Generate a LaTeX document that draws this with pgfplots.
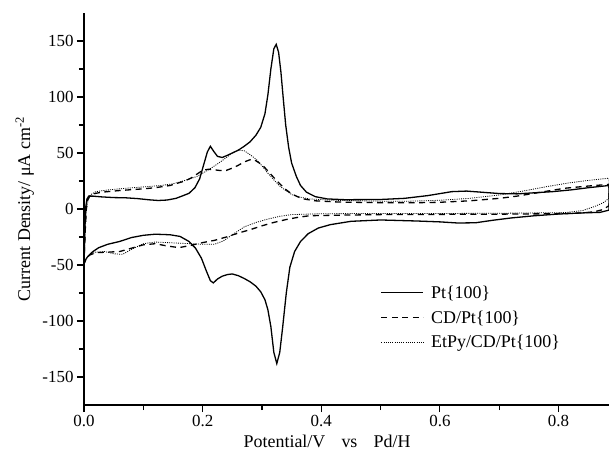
\documentclass[border=0pt]{standalone}
\usepackage{fontspec}
\setmainfont{Liberation Serif}
\usepackage{pgfplots}
\pgfplotsset{compat=1.18}
\begin{document}
\begin{tikzpicture}
\useasboundingbox (0,0) rectangle (609bp,457bp);
\begin{axis}[
  at={(84bp,52bp)}, anchor=south west,
  scale only axis, width=525bp, height=392bp,
  xmin=0, xmax=0.885, ymin=-175, ymax=175,
  axis lines=left, axis line style={-, line width=1.1bp},
  xtick={0,0.2,0.4,0.6,0.8}, minor xtick={0.1,0.3,0.5,0.7},
  ytick={-150,-100,...,150}, minor ytick={-125,-75,...,125},
  tick align=outside, major tick length=7bp, minor tick length=5bp,
  every tick/.style={line width=1.1bp, black},
  xticklabel style={/pgf/number format/.cd, fixed, fixed zerofill, precision=1},
  /pgf/number format/assume math mode=true,
  ticklabel style={font=\fontsize{17}{19}\selectfont},
  every axis x label/.style={at={(axis description cs:0.463,-0.092)}, anchor=center, font=\fontsize{18}{20}\selectfont},
  every axis y label/.style={at={(axis description cs:-0.113,0.5)}, rotate=90, anchor=center, font=\fontsize{18}{20}\selectfont},
  xlabel={Potential/V\hspace{0.9em}vs\hspace{0.9em}Pd/H},
  ylabel={Current Density/ μA cm\textsuperscript{-2}},
  legend style={draw=none, fill=none, at={(0.565,0.31)}, anchor=north west, inner sep=0pt,
    font=\fontsize{18}{20}\selectfont, row sep=7bp},
  legend image code/.code={\draw[#1] (0bp,0bp) -- (42bp,0bp); \path (47bp,0bp);},
  legend cell align=left,
]
% Pt{100}
\addplot[black, line width=1.3bp] coordinates {
(0,-49) (0.001,-30) (0.002,-10) (0.003,2) (0.005,9) (0.008,11.5) (0.015,11.5) (0.03,10.8) (0.05,10.2) (0.07,10) (0.09,9.3) (0.11,8.2) (0.125,7.6) (0.14,8) (0.155,9.5) (0.165,11.5) (0.177,14) (0.187,19) (0.195,27) (0.202,40) (0.208,51) (0.213,56) (0.218,52) (0.225,47) (0.233,46) (0.242,48) (0.25,50) (0.26,52.5) (0.27,56) (0.28,60) (0.29,66) (0.298,73) (0.305,85) (0.31,102) (0.315,125) (0.32,143) (0.324,147) (0.328,140) (0.332,122) (0.336,98) (0.34,75) (0.345,55) (0.35,41) (0.358,29) (0.365,21) (0.375,15) (0.39,11) (0.41,9) (0.44,8.3) (0.5,8.5) (0.54,9.5) (0.58,12) (0.62,15.5) (0.645,16) (0.67,15) (0.7,13.8) (0.73,13.5) (0.76,14.5) (0.79,15.5) (0.82,17) (0.85,19) (0.885,21)
(0.885,-1) (0.87,-3) (0.84,-3.5) (0.8,-4.5) (0.76,-6) (0.72,-8) (0.69,-10) (0.66,-12.3) (0.63,-12.5) (0.6,-11.5) (0.56,-10.7) (0.5,-9.8) (0.45,-11) (0.415,-14) (0.395,-17) (0.378,-22) (0.365,-29) (0.355,-38) (0.347,-52) (0.341,-75) (0.335,-105) (0.33,-128) (0.325,-138) (0.32,-128) (0.315,-105) (0.31,-90) (0.305,-81) (0.298,-74) (0.29,-69) (0.28,-65) (0.27,-62) (0.26,-59.5) (0.25,-58) (0.242,-58.5) (0.233,-60) (0.225,-62.5) (0.218,-66) (0.213,-64) (0.206,-55) (0.198,-44) (0.188,-35) (0.177,-29) (0.162,-24.5) (0.145,-23) (0.12,-22.5) (0.1,-23.5) (0.08,-25.5) (0.06,-29) (0.04,-31.5) (0.025,-34.5) (0.015,-38) (0.007,-42) (0.003,-45) (0,-49)
};
\addlegendentry{Pt\{100\}}
% CD/Pt{100}
\addplot[black, line width=1.3bp, dash pattern=on 6bp off 4.5bp] coordinates {
(0,-49) (0.002,-20) (0.004,0) (0.006,8) (0.01,12) (0.015,13.5) (0.03,15) (0.06,16.5) (0.1,18) (0.12,19) (0.145,21) (0.17,25) (0.18,27.5) (0.19,31) (0.2,34.5) (0.21,35.5) (0.22,35) (0.23,34.3) (0.24,34.5) (0.25,36.5) (0.26,39) (0.27,42) (0.28,44) (0.285,44.3) (0.29,43) (0.3,39.5) (0.31,34) (0.32,28) (0.33,22.5) (0.34,17.5) (0.35,13.5) (0.36,11) (0.37,9) (0.39,7.3) (0.43,6.2) (0.5,5.6) (0.55,5.5) (0.6,6) (0.65,7.3) (0.7,9.5) (0.73,11.5) (0.77,15) (0.81,18.5) (0.85,20.5) (0.885,22)
(0.885,3) (0.875,-0.5) (0.86,-2.5) (0.84,-3.5) (0.8,-4.2) (0.7,-4.6) (0.6,-4.8) (0.5,-5) (0.43,-5.5) (0.38,-6) (0.36,-7.5) (0.34,-9.5) (0.32,-12) (0.3,-15) (0.28,-18.5) (0.26,-21.5) (0.24,-25) (0.22,-28) (0.2,-30) (0.18,-32.5) (0.16,-34.5) (0.14,-33) (0.12,-31) (0.1,-32) (0.08,-35) (0.06,-38) (0.04,-38.5) (0.02,-39) (0.01,-41) (0.004,-44) (0,-49)
};
\addlegendentry{CD/Pt\{100\}}
% EtPy/CD/Pt{100}
\addplot[black, line width=0.8bp, dash pattern=on 1bp off 1.2bp] coordinates {
(0,-49) (0.002,-20) (0.004,0) (0.007,8) (0.012,13) (0.02,15.5) (0.04,17) (0.07,18.5) (0.1,19.7) (0.13,21) (0.15,22.5) (0.17,25.5) (0.19,29) (0.21,35) (0.23,42) (0.24,46) (0.25,50) (0.26,52.5) (0.27,52) (0.28,48.5) (0.29,44.5) (0.3,38.5) (0.31,32) (0.32,26) (0.33,20.5) (0.34,16.5) (0.35,13) (0.36,11) (0.38,9) (0.42,7.8) (0.5,7) (0.55,7) (0.6,7.8) (0.65,9.5) (0.7,12.5) (0.74,16) (0.78,20) (0.82,23.5) (0.85,25.5) (0.885,27.5)
(0.885,9.5) (0.875,5.5) (0.862,2.5) (0.84,-1.5) (0.81,-3.2) (0.7,-3.8) (0.6,-4) (0.5,-4) (0.4,-4.2) (0.35,-5) (0.33,-6.5) (0.31,-9) (0.29,-12) (0.27,-16) (0.25,-23) (0.235,-28.5) (0.22,-31.5) (0.2,-31.5) (0.18,-31) (0.16,-30.5) (0.14,-30) (0.12,-29.5) (0.1,-31) (0.08,-36) (0.065,-40.5) (0.05,-40) (0.035,-38) (0.02,-38.5) (0.01,-40.5) (0.004,-44) (0,-49)
};
\addlegendentry{EtPy/CD/Pt\{100\}}
\end{axis}
\end{tikzpicture}
\end{document}
